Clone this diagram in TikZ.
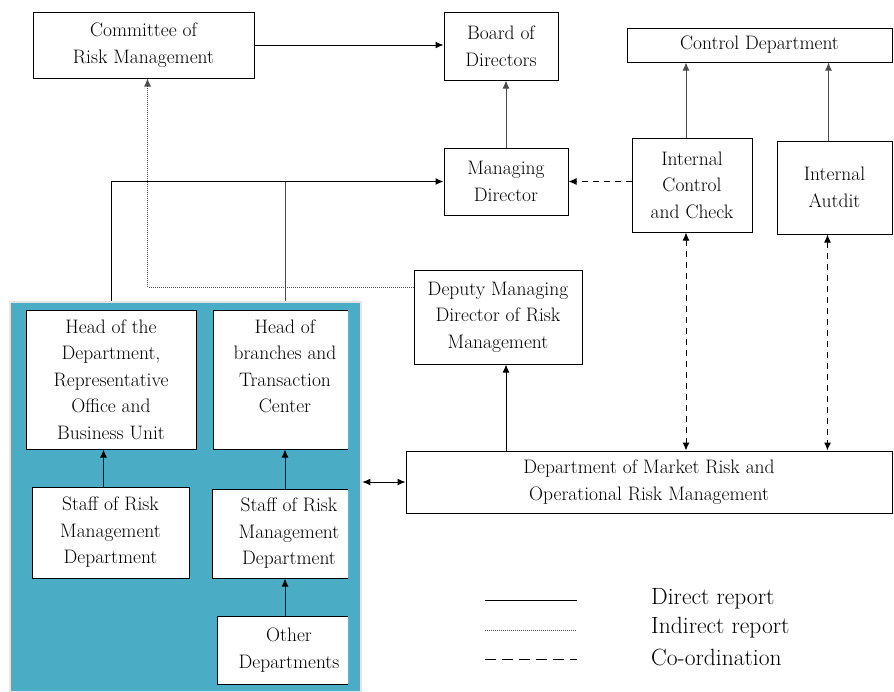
\documentclass[tikz,border=0pt]{standalone}
\usetikzlibrary{arrows.meta}
\definecolor{panelblue}{HTML}{4BACC6}
\tikzset{
  box/.style={draw, fill=white, align=center, inner sep=0pt, line width=1pt, font=\fontsize{19.5}{26.5}\selectfont},
  legendtext/.style={anchor=west, inner sep=0pt, font=\fontsize{23.5}{28}\selectfont},
  direct/.style={line width=1pt, -{Latex[length=8pt,width=7pt]}},
  directgray/.style={direct, black!70},
  indirect/.style={line width=0.9pt, black!70, dash pattern=on 1pt off 1pt, -{Latex[length=8pt,width=7pt]}},
  coordline/.style={line width=1pt, dash pattern=on 6pt off 5pt, -{Latex[length=8pt,width=7pt]}},
  coordboth/.style={coordline, {Latex[length=8pt,width=7pt]}-{Latex[length=8pt,width=7pt]}}
}
\begin{document}
\begin{tikzpicture}[x=1pt,y=-1pt]
	\useasboundingbox (0,0) rectangle (894,691);
	% obere Reihe
	\node[box, minimum width=221, minimum height=66] (crm) at (143.5,45) {Committee of\\Risk Management};
	\node[box, minimum width=114, minimum height=68] (bod) at (501,46) {Board of\\Directors};
	\node[box, minimum width=265, minimum height=34] (ctrl) at (759.5,45) {Control Department};
	% mittlere Reihe
	\node[box, minimum width=124, minimum height=67] (mgd) at (506,181.5) {Managing\\Director};
	\node[box, minimum width=120, minimum height=94] (icc) at (692,185) {Internal\\Control\\and Check};
	\node[box, minimum width=115, minimum height=93] (ia) at (834.5,187.5) {Internal\\Autdit};
	\node[box, minimum width=168, minimum height=94] (dmd) at (498,317) {Deputy Managing\\Director of Risk\\Management};
	\node[box, minimum width=486, minimum height=62] (dmr) at (649,482) {Department of Market Risk and\\Operational Risk Management};
	% blaues Feld
	\node[fill=panelblue, draw=gray!20, line width=2.5pt, inner sep=0pt, minimum width=351, minimum height=390] (panel) at (185.5,497) {};
	\node[box, minimum width=170, minimum height=139] (hdb) at (111,379.5) {Head of the\\Department,\\Representative\\Office and\\Business Unit};
	\node[box, minimum width=157, minimum height=91] (sr1) at (110.5,532.5) {Staff of Risk\\Management\\Department};
	\begin{scope}
		\clip (200,290) rectangle (348,691);
		\node[box, minimum width=144, minimum height=139] (hbt) at (285,379.5) {Head of\\branches and\\Transaction\\Center\\\mbox{}};
		\node[box, minimum width=146, minimum height=89] (sr2) at (285,533.5) {\hspace*{8pt}Staff of Risk\\\hspace*{8pt}Management\\\hspace*{8pt}Department};
		\node[box, minimum width=136, minimum height=68] (oth) at (285,650) {\hspace*{8pt}Other\\\hspace*{8pt}Departments};
	\end{scope}
	% Pfeile im Feld
	\draw[direct] ([xshift=-7pt]sr1.north) -- ([xshift=-7pt]sr1.north |- hdb.south);
	\draw[direct] (sr2.north) -- (hbt.south);
	\draw[direct] (oth.north) -- (sr2.south);
	% Berichtslinien
	\draw[direct] (crm.east) -- (crm.east -| bod.west);
	\draw[directgray] (mgd.north) -- (mgd.north |- bod.south);
	\draw[directgray] ([xshift=-6pt]icc.north) -- ([xshift=-6pt]icc.north |- ctrl.south);
	\draw[directgray] ([xshift=-6pt]ia.north) -- ([xshift=-6pt]ia.north |- ctrl.south);
	\draw[direct] (hdb.north |- panel.north) |- (mgd.west);
	\draw[line width=1pt, black!70] (hbt.north |- panel.north) -- (hbt.north |- mgd.west);
	\draw[direct] ([xshift=8pt]dmd.south |- dmr.north) -- ([xshift=8pt]dmd.south);
	\draw[line width=1pt, {Latex[length=8pt,width=7pt]}-{Latex[length=8pt,width=7pt]}] (panel.east |- dmr.west) -- (dmr.west);
	\draw[indirect] ([yshift=30pt]dmd.west) -| ([xshift=4pt]crm.south);
	\draw[coordline] (icc.west |- mgd.east) -- (mgd.east);
	\draw[coordboth] ([xshift=-6pt]icc.south) -- ([xshift=-6pt]icc.south |- dmr.north);
	\draw[coordboth] ([xshift=-7pt]ia.south) -- ([xshift=-7pt]ia.south |- dmr.north);
	% Legende
	\node[legendtext] (ldir) at (651,599) {Direct report};
	\node[legendtext] (lind) at (651,628) {Indirect report};
	\node[legendtext] (lcoo) at (651,657) {Co-ordination};
	\draw[line width=1pt] (485,600) -- (577,600);
	\draw[line width=0.9pt, black!70, dash pattern=on 1pt off 1pt] (485,630) -- (577,630);
	\draw[line width=1pt, dash pattern=on 11pt off 6pt] (485,659) -- (577,659);
\end{tikzpicture}
\end{document}
